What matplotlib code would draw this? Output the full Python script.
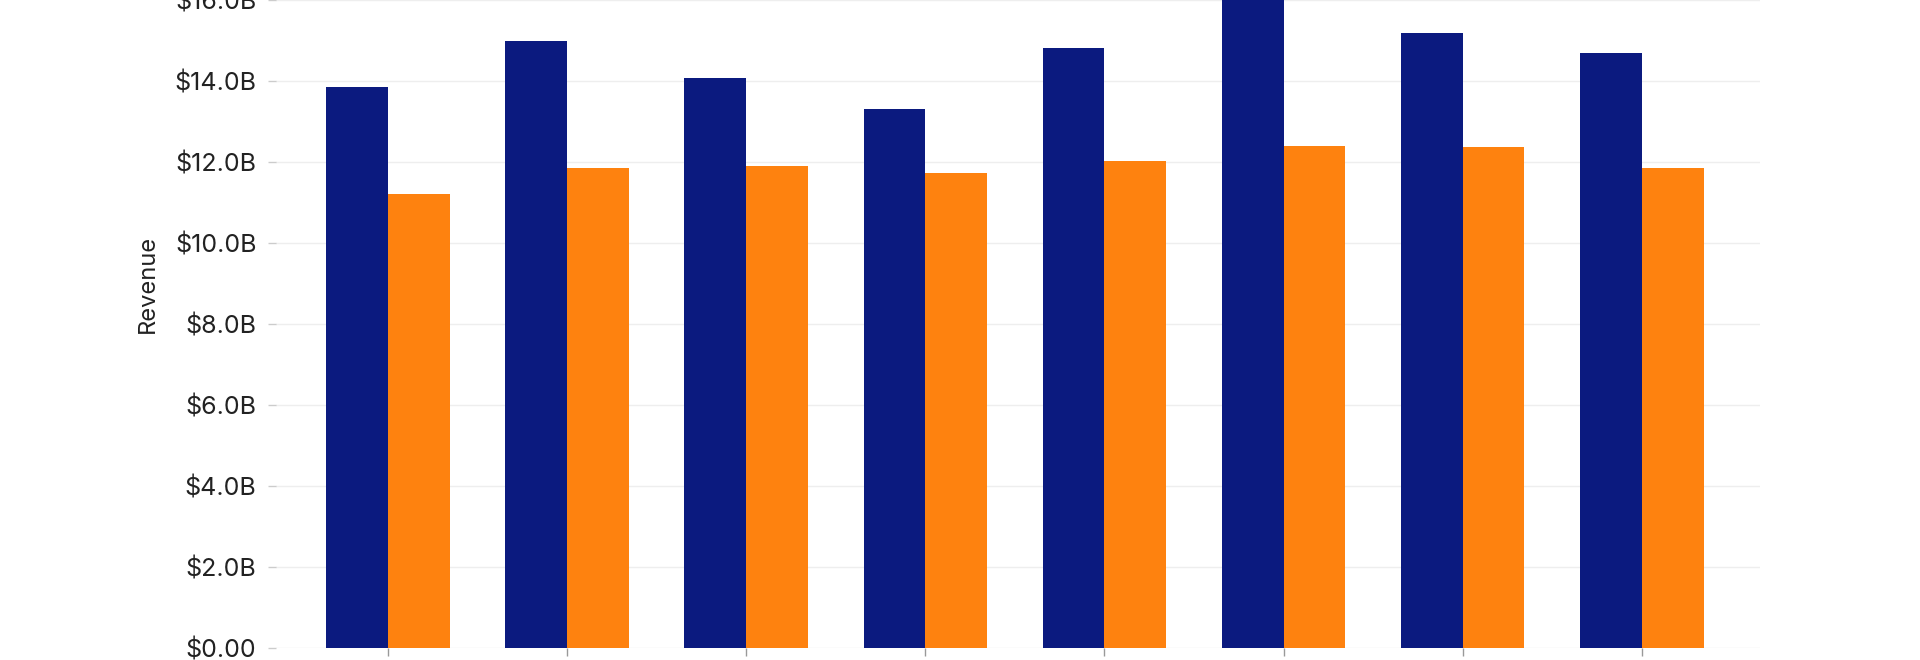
import numpy as np
import matplotlib
matplotlib.use("Agg")
import matplotlib.pyplot as plt
from matplotlib.ticker import FuncFormatter, MultipleLocator

# revenue in billions
blue_vals = [13.84, 15.0, 14.08, 13.31, 14.81, 16.4, 15.19, 14.68]
orange_vals = [11.21, 11.85, 11.91, 11.72, 12.03, 12.40, 12.36, 11.84]

blue_col = "#0b1a7f"
orange_col = "#fe820f"

plt.rcParams["font.family"] = ["Inter", "DejaVu Sans"]

fig = plt.figure(figsize=(19.2, 6.6), dpi=100)
ax = fig.add_axes([276 / 1920, 12 / 660, (1760 - 276) / 1920, 729 / 660])

x = np.arange(len(blue_vals))
w = 0.345
ax.bar(x - w / 2, blue_vals, w, color=blue_col, zorder=2)
ax.bar(x + w / 2, orange_vals, w, color=orange_col, zorder=2)

ax.set_xlim(-0.625, 7.66)
ax.set_ylim(0, 18)
ax.yaxis.set_major_locator(MultipleLocator(2))


def fmt(v, pos):
    if v == 0:
        return "$0.00"
    return "${:.1f}B".format(v)


ax.yaxis.set_major_formatter(FuncFormatter(fmt))
ax.set_xticks(x)
ax.set_xticklabels([""] * len(x))

for s in ax.spines.values():
    s.set_visible(False)

ax.grid(axis="y", color="#eeeeee", linewidth=1, zorder=0)
ax.tick_params(axis="y", length=6, width=1, color="#cccccc", pad=8,
               labelsize=18, labelcolor="#222222")
ax.tick_params(axis="x", length=6, width=1, color="#999999")

ax.set_ylabel("Revenue", fontsize=17, color="#222222", labelpad=11)

fig.savefig("out.png", dpi=100, facecolor="white")
